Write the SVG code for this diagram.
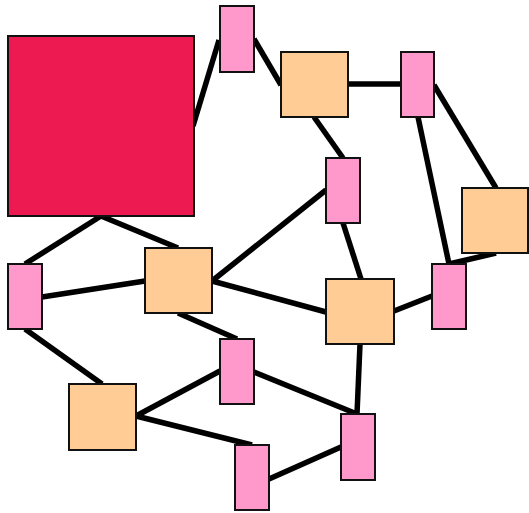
<svg xmlns="http://www.w3.org/2000/svg" width="529" height="513" viewBox="0 0 529 513">
<style>
.n{stroke:#111;stroke-width:2}
.red{fill:#ED1A52}
.org{fill:#FFCC96}
.pnk{fill:#FF99CC}
#edges line{stroke:#000;stroke-width:5.5;stroke-linecap:butt}
</style>
<rect width="529" height="513" fill="#fff"/>
<g id="edges">
<line x1="193" y1="126" x2="219" y2="40"/>
<line x1="254" y1="39" x2="281" y2="85"/>
<line x1="101" y1="216" x2="25" y2="264"/>
<line x1="101" y1="216" x2="178" y2="248"/>
<line x1="348" y1="84" x2="401" y2="84"/>
<line x1="314" y1="117" x2="343" y2="158"/>
<line x1="434" y1="85" x2="496" y2="188"/>
<line x1="418" y1="117" x2="449" y2="264"/>
<line x1="326" y1="190" x2="212" y2="281"/>
<line x1="212" y1="281" x2="326" y2="312"/>
<line x1="42" y1="297" x2="145" y2="281"/>
<line x1="178" y1="313" x2="237" y2="339"/>
<line x1="25" y1="329" x2="102" y2="384"/>
<line x1="220" y1="371" x2="136" y2="416"/>
<line x1="136" y1="416" x2="252" y2="445"/>
<line x1="343" y1="223" x2="361" y2="279"/>
<line x1="394" y1="311" x2="432" y2="296"/>
<line x1="449" y1="264" x2="496" y2="253"/>
<line x1="360" y1="344" x2="357" y2="414"/>
<line x1="254" y1="372" x2="357" y2="414"/>
<line x1="269" y1="479" x2="341" y2="447"/>
</g>
<g id="n0"><rect class="n red" x="8" y="36" width="186" height="180"/></g>
<g id="n1"><rect class="n pnk" x="220" y="6" width="34" height="66"/></g>
<g id="n2"><rect class="n org" x="281" y="52" width="67" height="65"/></g>
<g id="n3"><rect class="n pnk" x="401" y="52" width="33" height="65"/></g>
<g id="n4"><rect class="n pnk" x="326" y="158" width="34" height="65"/></g>
<g id="n5"><rect class="n org" x="462" y="188" width="66" height="65"/></g>
<g id="n6"><rect class="n pnk" x="8" y="264" width="34" height="65"/></g>
<g id="n7"><rect class="n org" x="145" y="248" width="67" height="65"/></g>
<g id="n8"><rect class="n org" x="326" y="279" width="68" height="65"/></g>
<g id="n9"><rect class="n pnk" x="432" y="264" width="34" height="65"/></g>
<g id="n10"><rect class="n pnk" x="220" y="339" width="34" height="65"/></g>
<g id="n11"><rect class="n org" x="69" y="384" width="67" height="66"/></g>
<g id="n12"><rect class="n pnk" x="341" y="414" width="34" height="66"/></g>
<g id="n13"><rect class="n pnk" x="235" y="445" width="34" height="65"/></g>
</svg>
